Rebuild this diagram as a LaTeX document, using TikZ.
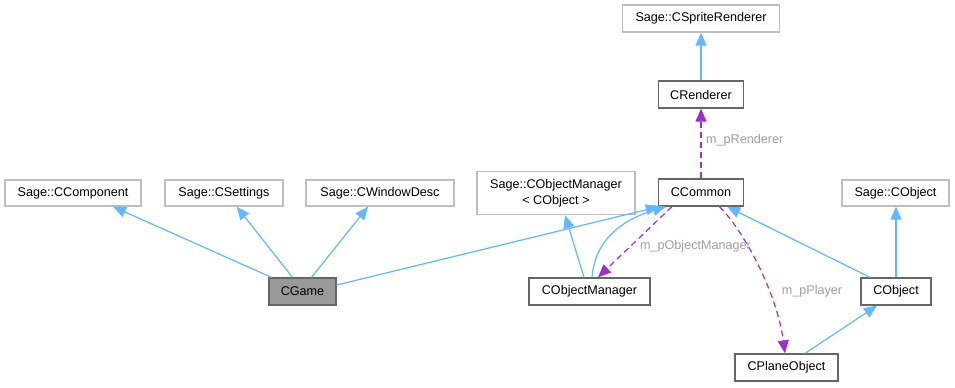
\documentclass[tikz,border=0pt]{standalone}
\usepackage{fontspec}
\setmainfont{Liberation Sans}
\usetikzlibrary{arrows.meta,calc}
\definecolor{edgeblue}{HTML}{63B8FF}
\definecolor{refpurple}{HTML}{9A32CD}
\definecolor{boxdark}{HTML}{666666}
\definecolor{boxlight}{HTML}{BFBFBF}
\definecolor{labelgray}{HTML}{A0A0A0}
\definecolor{gamefill}{HTML}{999999}
\begin{document}
\begin{tikzpicture}[x=1bp,y=-1bp,
  font=\fontsize{12.6bp}{15.7bp}\selectfont,
  cls/.style={draw=boxdark,line width=1.3bp,fill=white,inner sep=0pt,
    minimum height=27bp,align=center},
  extcls/.style={cls,draw=boxlight},
  inherit/.style={draw=edgeblue,line width=1.2bp,
    -{Triangle[length=13bp,width=11bp]}},
  usage/.style={draw=refpurple,line width=1.2bp,dash pattern=on 6bp off 4bp,
    -{Triangle[length=13bp,width=11bp]}},
  reflabel/.style={text=labelgray,inner sep=0pt}]
\useasboundingbox[fill=white] (0,0) rectangle (955,387);

% classes
\node[extcls,minimum width=136bp,minimum height=26bp] (comp) at (73,193) {Sage::CComponent};
\node[extcls,minimum width=118bp,minimum height=26bp] (settings) at (224,193) {Sage::CSettings};
\node[extcls,minimum width=148bp,minimum height=26bp] (window) at (380,193) {Sage::CWindowDesc};
\node[cls,fill=gamefill,minimum width=67bp] (cgame) at (302.5,291.5) {CGame};
\node[extcls,minimum width=158bp,minimum height=43bp] (somgr) at (556,193) {Sage::CObjectManager\\\textless{} CObject \textgreater};
\node[cls,minimum width=85bp] (common) at (701,192.5) {CCommon};
\node[extcls,minimum width=107bp,minimum height=26bp] (sobj) at (895.5,193) {Sage::CObject};
\node[cls,minimum width=121bp] (omgr) at (589.5,291.5) {CObjectManager};
\node[cls,minimum width=70bp] (cobj) at (896,291.5) {CObject};
\node[cls,minimum width=103bp] (plane) at (786.5,367.5) {CPlaneObject};
\node[cls,minimum width=85bp] (renderer) at (701,94.5) {CRenderer};
\node[extcls,minimum width=157bp] (sprite) at (701,18.5) {Sage::CSpriteRenderer};

% inheritance
\draw[inherit] ([xshift=3bp]cgame.north west) -- ([xshift=40bp]comp.south);
\draw[inherit] ([xshift=-10bp]cgame.north) -- ([xshift=12.7bp]settings.south);
\draw[inherit] ([xshift=9bp]cgame.north) -- ([xshift=-12bp]window.south);
\draw[inherit] ([yshift=6.5bp]cgame.east) -- ([xshift=1bp]common.south west);
\draw[inherit] ([xshift=-5.5bp]omgr.north) -- ([xshift=9bp]somgr.south);
\draw[inherit] ([xshift=2.5bp]omgr.north) .. controls +(3,-40) and +(-40,12) .. ([xshift=8bp]common.south west);
\draw[inherit] ([xshift=-26bp]cobj.north) -- ([xshift=-17bp]common.south east);
\draw[inherit] (cobj.north) -- (cobj.north |- sobj.south);
\draw[inherit] ([xshift=18.5bp]plane.north) -- ([xshift=-19bp]cobj.south);
\draw[inherit] (renderer.north) -- (sprite.south);

% member references
\draw[usage] (common.north) -- (renderer.south);
\draw[usage] ([xshift=14bp]common.south west) -- ([xshift=8.5bp]omgr.north);
\draw[usage] ([xshift=18.5bp]common.south) .. controls +(25,25) and +(-8,-60) .. ([xshift=-1.5bp]plane.north);

% reference labels
\node[reflabel,anchor=west] (lrend) at (706,140) {m\_pRenderer};
\node[reflabel] (lomgr) at (695.5,246.5) {m\_pObjectManager};
\node[reflabel] (lplayer) at (812,291.5) {m\_pPlayer};
\end{tikzpicture}
\end{document}
